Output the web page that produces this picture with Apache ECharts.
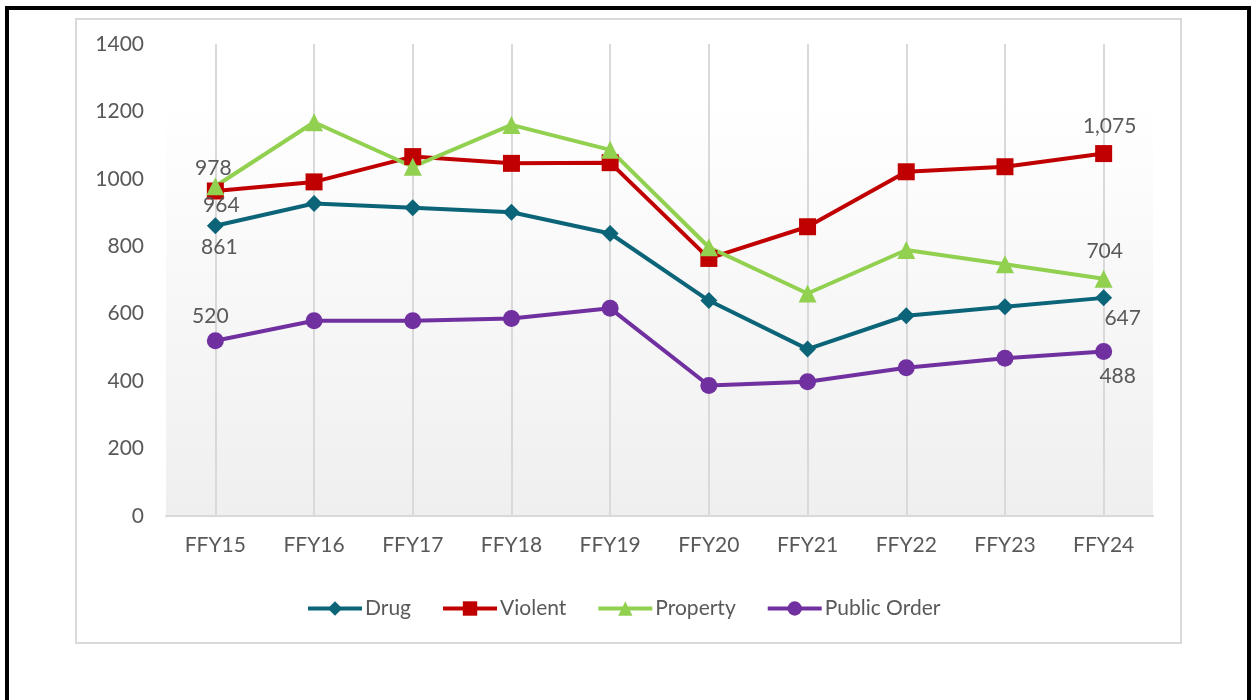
<!DOCTYPE html>
<html>
<head>
<meta charset="utf-8">
<script src="https://cdn.jsdelivr.net/npm/echarts@6/dist/echarts.min.js"></script>
<style>
  html, body { margin: 0; padding: 0; background: #fff; }
  #chart { width: 1251px; height: 700px; }
</style>
</head>
<body>
<div id="chart"></div>
<script>
// chart data
var years = ['FFY15', 'FFY16', 'FFY17', 'FFY18', 'FFY19', 'FFY20', 'FFY21', 'FFY22', 'FFY23', 'FFY24']
var drug = [861, 927, 914, 901, 838, 639, 495, 594, 621, 647]
var violent = [964, 991, 1066, 1046, 1048, 764, 858, 1021, 1036, 1075]
var property = [978, 1168, 1036, 1160, 1086, 797, 660, 789, 747, 704]
var publicOrder = [520, 579, 579, 586, 616, 387, 398, 440, 468, 488]
var yTicks = [0, 200, 400, 600, 800, 1000, 1200, 1400]

var textColor = '#595959'
var fontFamily = 'Lato, "Open Sans", sans-serif'

// label offsets for the first / last point of each line
var endLabels = {
  Drug: [[4, 22], [19, 20]],
  Violent: [[6, 14], [6, -27]],
  Property: [[-2, -18], [1, -27]],
  'Public Order': [[-5, -24], [14, 25]]
}

function withEndLabels(name, values) {
  var last = values.length - 1
  return values.map(function(v, i) {
    if (i !== 0 && i !== last) return v
    var off = endLabels[name][i === 0 ? 0 : 1]
    return {
      value: v,
      label: {
        show: true,
        position: 'inside',
        offset: off,
        color: textColor,
        fontSize: 21,
        fontFamily: fontFamily,
        formatter: function(p) {
          return p.value.toLocaleString('en-US')
        }
      }
    }
  })
}

function makeSeries(name, values, color, symbol, size) {
  return {
    name: name,
    type: 'line',
    data: withEndLabels(name, values),
    symbol: symbol,
    symbolSize: size,
    showAllSymbol: true,
    lineStyle: { color: color, width: 4 },
    itemStyle: { color: color },
    emphasis: { disabled: true },
    z: 3
  }
}

var chart = echarts.init(document.getElementById('chart'))
chart.setOption({
  animation: false,
  backgroundColor: '#fff',
  graphic: [
    {
      type: 'rect',
      silent: true,
      shape: { x: 7, y: 8, width: 1242, height: 800 },
      style: { fill: 'none', stroke: '#000', lineWidth: 4 }
    },
    {
      type: 'rect',
      silent: true,
      shape: { x: 76, y: 19, width: 1105, height: 624 },
      style: { fill: 'none', stroke: '#d9d9d9', lineWidth: 2 }
    }
  ],
  grid: {
    left: 166,
    right: 98,
    top: 44,
    bottom: 184,
    show: true,
    borderWidth: 0,
    backgroundColor: {
      type: 'linear', x: 0, y: 0, x2: 0, y2: 1,
      colorStops: [
        { offset: 0, color: '#ffffff' },
        { offset: 0.12, color: '#ffffff' },
        { offset: 1, color: '#efefef' }
      ]
    }
  },
  legend: {
    left: 301,
    top: 593,
    itemWidth: 54,
    itemHeight: 18,
    itemGap: 30,
    lineStyle: { width: 4 },
    textStyle: { color: textColor, fontSize: 21, fontFamily: fontFamily, padding: [0, 0, 0, -2] },
    data: ['Drug', 'Violent', 'Property', 'Public Order']
  },
  xAxis: {
    type: 'category',
    data: years,
    boundaryGap: true,
    axisLine: { show: true, lineStyle: { color: '#d9d9d9', width: 2 } },
    axisTick: { show: false },
    axisLabel: { color: textColor, fontSize: 21, fontFamily: fontFamily, margin: 19 },
    splitLine: { show: true, alignWithLabel: true, lineStyle: { color: '#d9d9d9', width: 2 } }
  },
  yAxis: {
    type: 'value',
    min: yTicks[0],
    max: yTicks[yTicks.length - 1],
    interval: yTicks[1] - yTicks[0],
    axisLine: { show: false },
    axisTick: { show: false },
    splitLine: { show: false },
    axisLabel: {
      color: textColor,
      fontSize: 21,
      fontFamily: fontFamily,
      margin: 22,
      formatter: function(v) { return String(v) }
    }
  },
  series: [
    makeSeries('Drug', drug, '#0b6478', 'diamond', 17),
    makeSeries('Violent', violent, '#c00000', 'rect', 17),
    makeSeries('Property', property, '#92d050', 'triangle', 18),
    makeSeries('Public Order', publicOrder, '#7030a0', 'circle', 17)
  ]
})
</script>
</body>
</html>
